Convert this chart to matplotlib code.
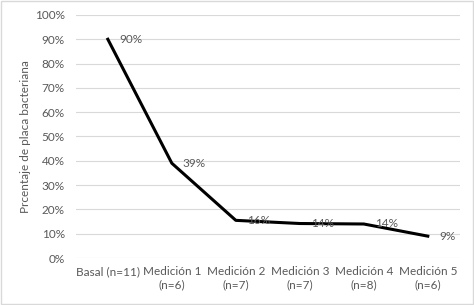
import matplotlib.pyplot as plt
from matplotlib.patches import Rectangle

categories = ["Basal (n=11)", "Medición 1\n(n=6)", "Medición 2\n(n=7)",
              "Medición 3\n(n=7)", "Medición 4\n(n=8)", "Medición 5\n(n=6)"]
values = [0.90, 0.39, 0.155, 0.142, 0.14, 0.09]
labels = ["90%", "39%", "16%", "14%", "14%", "9%"]
y_ticks = [i / 10 for i in range(11)]

plt.rcParams['font.family'] = ['Lato', 'DejaVu Sans']
text_color = '#595959'

fig = plt.figure(figsize=(4.74, 3.05), dpi=100)
fig.patches.append(Rectangle((0.002, 0.003), 0.996, 0.994, transform=fig.transFigure,
                             fill=False, edgecolor='#d9d9d9', linewidth=1))
ax = fig.add_axes([0.160, 0.154, 0.810, 0.797])

x = list(range(len(categories)))
ax.plot(x, values, color='black', linewidth=2.2, zorder=3)
for xi, v, lab in zip(x, values, labels):
    ax.annotate(lab, (xi, v), xytext=(8, 0), textcoords='offset points',
                ha='left', va='center', fontsize=8.5, color=text_color, zorder=4)

ax.set_xlim(-0.5, len(categories) - 0.5)
ax.set_ylim(0, 1)
ax.set_yticks(y_ticks)
ax.set_yticklabels([f"{int(round(t * 100))}%" for t in y_ticks])
ax.set_xticks(x)
ax.set_xticklabels(categories)
ax.tick_params(axis='both', length=0, labelsize=8.5, colors=text_color)
ax.tick_params(axis='x', pad=6)
ax.tick_params(axis='y', pad=8)
ax.grid(axis='y', color='#d9d9d9', linewidth=0.8)
ax.set_axisbelow(True)
for s in ax.spines.values():
    s.set_visible(False)
ax.set_ylabel("Prcentaje de placa bacteriana", fontsize=8.5, color=text_color, labelpad=3)

fig.savefig("out.png", dpi=100)
